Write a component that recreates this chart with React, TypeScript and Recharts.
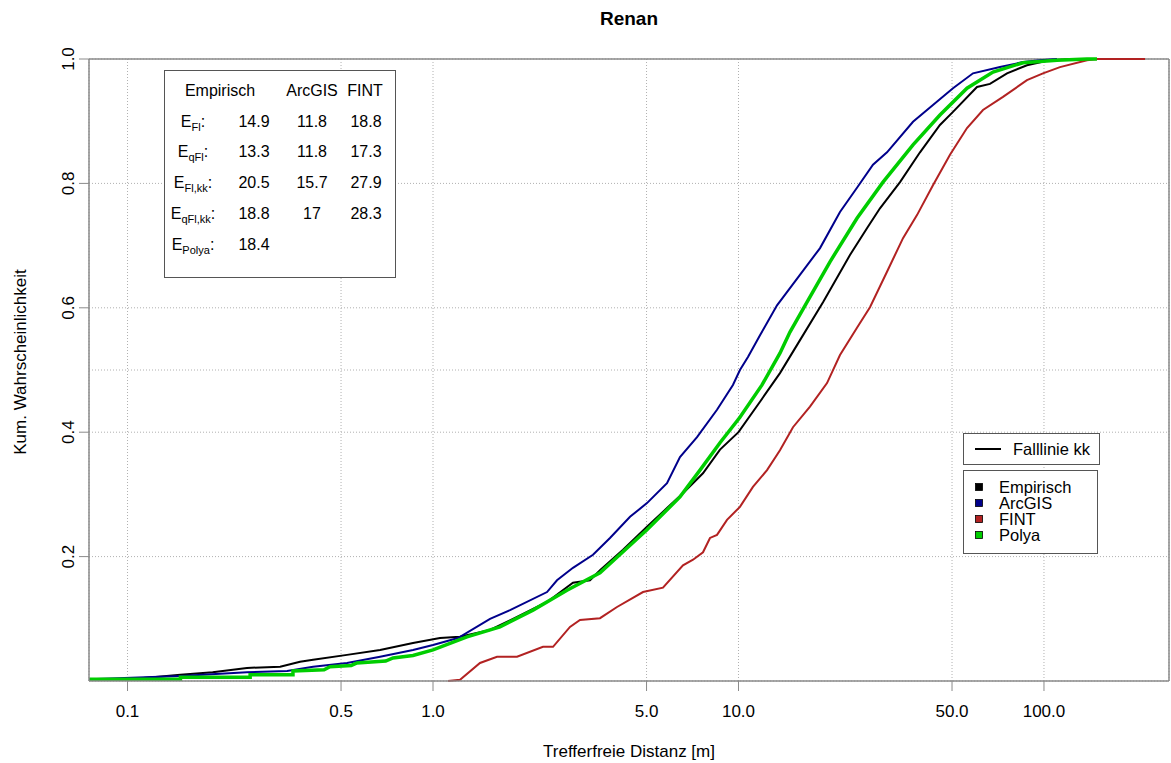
import React from "react";
import { LineChart, Line, XAxis, YAxis, CartesianGrid, ReferenceLine } from "recharts";

const FONT = '"Liberation Sans", Arial, Helvetica, sans-serif';

// Achsen
const xDomain = [0.0748, 256.6];
const xTicks = [0.1, 0.5, 1, 5, 10, 50, 100];
const yTicks = [0.2, 0.4, 0.6, 0.8, 1.0];
const yGridExtra = [0.5];

// Kurven: [Distanz, kum. Wahrscheinlichkeit]
const empirisch: [number, number][] = [
  [0.075, 0.003], [0.0996, 0.003], [0.121, 0.006], [0.149, 0.01], [0.19, 0.014], [0.246, 0.021],
  [0.316, 0.023], [0.367, 0.031], [0.405, 0.034], [0.523, 0.042], [0.671, 0.05], [0.86, 0.061],
  [1.054, 0.069], [1.226, 0.071], [1.537, 0.082], [1.884, 0.103], [2.362, 0.127], [2.872, 0.158],
  [3.265, 0.162], [3.521, 0.178], [4.188, 0.211], [5.017, 0.248], [5.834, 0.278], [6.581, 0.302],
  [7.65, 0.334], [8.7, 0.372], [10.0, 0.4], [11.76, 0.449], [13.67, 0.495], [15.54, 0.54],
  [18.91, 0.609], [23.17, 0.685], [26.34, 0.728], [29.05, 0.76], [33.79, 0.802], [39.28, 0.85],
  [45.65, 0.894], [50.37, 0.915], [60.36, 0.955], [66.56, 0.96], [75.68, 0.977], [87.96, 0.99],
  [102.3, 0.997], [124.5, 1.0],
];

const arcgis: [number, number][] = [
  [0.075, 0.003], [0.149, 0.008], [0.246, 0.014], [0.333, 0.016], [0.405, 0.023], [0.523, 0.029],
  [0.671, 0.039], [0.86, 0.05], [1.0, 0.058], [1.207, 0.069], [1.537, 0.1], [1.787, 0.114],
  [2.362, 0.143], [2.546, 0.162], [2.872, 0.182], [3.34, 0.203], [3.796, 0.23], [4.415, 0.264],
  [5.017, 0.286], [5.834, 0.318], [6.434, 0.36], [7.316, 0.392], [8.505, 0.436], [9.59, 0.476],
  [10.11, 0.5], [10.74, 0.521], [11.76, 0.556], [13.37, 0.604], [15.89, 0.653], [18.49, 0.696],
  [21.49, 0.754], [24.43, 0.793], [27.56, 0.83], [30.63, 0.85], [37.26, 0.899], [43.31, 0.926],
  [50.37, 0.953], [58.57, 0.977], [71.78, 0.987], [85.35, 0.995], [97.0, 0.998], [110.3, 1.0],
];

const fint: [number, number][] = [
  [1.12, 0.0], [1.226, 0.002], [1.425, 0.029], [1.62, 0.039], [1.884, 0.039], [2.291, 0.055],
  [2.471, 0.055], [2.808, 0.087], [3.028, 0.098], [3.521, 0.101], [4.003, 0.119], [4.869, 0.143],
  [5.66, 0.15], [6.581, 0.186], [7.099, 0.195], [7.653, 0.207], [8.067, 0.23], [8.505, 0.235],
  [9.17, 0.259], [10.11, 0.28], [11.15, 0.312], [12.4, 0.339], [13.67, 0.371], [15.08, 0.408],
  [17.14, 0.441], [19.49, 0.479], [21.49, 0.524], [24.43, 0.568], [26.94, 0.601], [30.63, 0.658],
  [34.56, 0.712], [38.4, 0.749], [43.31, 0.797], [49.24, 0.846], [55.98, 0.889], [63.14, 0.918],
  [73.43, 0.939], [87.96, 0.966], [99.25, 0.977], [112.8, 0.987], [138.3, 0.998], [149.1, 1.0],
  [214.1, 1.0],
];

const polya: [number, number][] = [
  [0.075, 0.003], [0.149, 0.003], [0.149, 0.006], [0.252, 0.006], [0.252, 0.01], [0.348, 0.01],
  [0.348, 0.016], [0.44, 0.018], [0.46, 0.023], [0.54, 0.025], [0.564, 0.029], [0.7, 0.032],
  [0.74, 0.037], [0.86, 0.041], [1.0, 0.05], [1.292, 0.071], [1.657, 0.087], [2.125, 0.114],
  [2.746, 0.146], [3.521, 0.174], [5.017, 0.243], [6.434, 0.296], [7.482, 0.339], [8.699, 0.383],
  [10.11, 0.424], [11.94, 0.476], [13.67, 0.527], [14.74, 0.561], [16.76, 0.609], [19.93, 0.674],
  [24.43, 0.744], [29.72, 0.802], [37.26, 0.862], [45.65, 0.91], [55.98, 0.953], [68.09, 0.979],
  [85.35, 0.994], [110.3, 0.998], [138.3, 1.0], [149.1, 1.0],
];

// Tabelle
const tableHeader = ["Empirisch", "ArcGIS", "FINT"];
const rowSubs = ["Fl", "qFl", "Fl,kk", "qFl,kk", "Polya"];
const empirischVals = ["14.9", "13.3", "20.5", "18.8", "18.4"];
const arcgisVals = ["11.8", "11.8", "15.7", "17", ""];
const fintVals = ["18.8", "17.3", "27.9", "28.3", ""];

// Legende
const legendNames = ["Empirisch", "ArcGIS", "FINT", "Polya"];
const legendColors = ["#000000", "#00008B", "#B22222", "#00CD00"];

const toPoints = (arr: [number, number][]) => arr.map(([x, y]) => ({ x, y }));

const YTick = (props: any) => {
  const { x, y, payload } = props;
  const bx = x - 5;
  return (
    <text
      x={bx}
      y={y}
      transform={`rotate(-90 ${bx} ${y})`}
      textAnchor="middle"
      fontSize={17}
      fontFamily={FONT}
      fill="#000"
    >
      {Number(payload.value).toFixed(1)}
    </text>
  );
};

function InfoTable() {
  const rowY = [127, 157, 188, 219, 250];
  return (
    <g fontFamily={FONT} fontSize={16} fill="#000">
      <rect x={164.5} y={70.5} width={231} height={207} fill="white" stroke="#555" strokeWidth={1} />
      <text x={220} y={96} textAnchor="middle">{tableHeader[0]}</text>
      <text x={312} y={96} textAnchor="middle">{tableHeader[1]}</text>
      <text x={365} y={96} textAnchor="middle">{tableHeader[2]}</text>
      {rowSubs.map((s, i) => (
        <g key={s}>
          <text x={193} y={rowY[i]} textAnchor="middle">
            E
            <tspan fontSize={11} dy={4}>{s}</tspan>
            <tspan dy={-4}>:</tspan>
          </text>
          <text x={254} y={rowY[i]} textAnchor="middle">{empirischVals[i]}</text>
          <text x={312} y={rowY[i]} textAnchor="middle">{arcgisVals[i]}</text>
          <text x={366} y={rowY[i]} textAnchor="middle">{fintVals[i]}</text>
        </g>
      ))}
    </g>
  );
}

function LegendBoxes() {
  return (
    <g fontFamily={FONT} fontSize={16.5} fill="#000">
      <rect x={963.5} y={433.5} width={136} height={31} fill="white" stroke="#555" />
      <line x1={975} x2={1001} y1={449} y2={449} stroke="#000" strokeWidth={2} />
      <text x={1013} y={455}>Falllinie kk</text>
      <rect x={963.5} y={470.5} width={134} height={83} fill="white" stroke="#555" />
      {legendNames.map((n, i) => (
        <g key={n}>
          <rect x={975.5} y={483.5 + i * 16} width={7} height={7} fill={legendColors[i]} stroke="#000" strokeWidth={0.8} />
          <text x={999} y={493 + i * 16}>{n}</text>
        </g>
      ))}
    </g>
  );
}

export default function App() {
  const axisColor = "#8a8a8a";
  return (
    <div style={{ position: "absolute", left: 0, top: 0, width: 1171, height: 763, background: "#fff" }}>
      <LineChart width={1171} height={763} margin={{ top: 59, right: 2, bottom: 0, left: 0 }}>
        <CartesianGrid stroke="#b0b0b0" strokeDasharray="1 2" />
        {yGridExtra.map((v) => (
          <ReferenceLine key={v} y={v} stroke="#b0b0b0" strokeDasharray="1 2" />
        ))}
        <XAxis
          type="number"
          dataKey="x"
          scale="log"
          domain={xDomain}
          allowDataOverflow
          ticks={xTicks}
          interval={0}
          tickFormatter={(v: number) => v.toFixed(1)}
          height={82}
          tickSize={10}
          tickMargin={14}
          axisLine={{ stroke: axisColor, strokeWidth: 1.5 }}
          tickLine={{ stroke: axisColor }}
          tick={{ fill: "#000", fontSize: 17, fontFamily: FONT }}
        />
        <YAxis
          type="number"
          domain={[0, 1]}
          ticks={yTicks}
          interval={0}
          width={89}
          tickSize={10}
          tickMargin={0}
          axisLine={{ stroke: axisColor, strokeWidth: 1.5 }}
          tickLine={{ stroke: axisColor }}
          tick={<YTick />}
        />
        <ReferenceLine y={1} stroke={axisColor} strokeWidth={1.5} />
        <ReferenceLine x={xDomain[1]} stroke={axisColor} strokeWidth={1.5} />
        <Line data={toPoints(empirisch)} dataKey="y" type="linear" stroke="#000" strokeWidth={2} dot={false} isAnimationActive={false} />
        <Line data={toPoints(arcgis)} dataKey="y" type="linear" stroke="#00008B" strokeWidth={2} dot={false} isAnimationActive={false} />
        <Line data={toPoints(fint)} dataKey="y" type="linear" stroke="#B22222" strokeWidth={2} dot={false} isAnimationActive={false} />
        <Line data={toPoints(polya)} dataKey="y" type="linear" stroke="#00CD00" strokeWidth={3.5} dot={false} isAnimationActive={false} />
      </LineChart>
      <svg width={1171} height={763} style={{ position: "absolute", left: 0, top: 0, pointerEvents: "none" }}>
        <text x={629} y={25} textAnchor="middle" fontFamily={FONT} fontSize={19} fontWeight="bold" fill="#000">
          Renan
        </text>
        <text x={629} y={757} textAnchor="middle" fontFamily={FONT} fontSize={17} fill="#000">
          Trefferfreie Distanz [m]
        </text>
        <text
          x={26}
          y={362}
          transform="rotate(-90 26 362)"
          textAnchor="middle"
          fontFamily={FONT}
          fontSize={17}
          fill="#000"
        >
          Kum. Wahrscheinlichkeit
        </text>
        <InfoTable />
        <LegendBoxes />
      </svg>
    </div>
  );
}
